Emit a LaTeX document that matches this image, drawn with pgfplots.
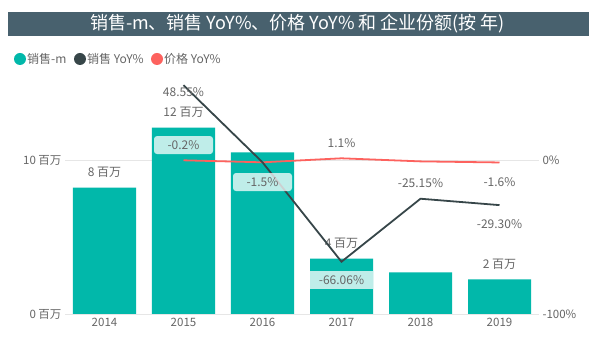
\documentclass[border=0pt]{standalone}
\usepackage{pgfplots}
\pgfplotsset{compat=1.18}
\usepackage{fontspec}
\setmainfont{Noto Sans CJK SC}
\definecolor{teal1}{HTML}{01B8AA}
\definecolor{dark1}{HTML}{374649}
\definecolor{red1}{HTML}{FD625E}
\definecolor{titlebg}{HTML}{48616E}
\definecolor{lbl}{HTML}{666666}
\definecolor{gridc}{HTML}{E6E6E6}
\begin{document}
\begin{tikzpicture}
\path[use as bounding box,fill=white] (0,0) rectangle (595bp,360bp);
% title bar
\fill[titlebg] (8bp,324bp) rectangle (589bp,348bp);
\node[text=white,font=\fontsize{18bp}{20bp}\selectfont] at (297.5bp,336bp) {销售-m、销售 YoY\%、价格 YoY\% 和 企业份额(按 年)};
% legend
\begin{scope}[font=\fontsize{12bp}{14bp}\selectfont,text=lbl]
\fill[teal1] (20bp,301bp) circle (6bp);
\node[anchor=west,inner sep=0pt] at (27bp,301bp) {销售-m};
\fill[dark1] (80bp,301bp) circle (6bp);
\node[anchor=west,inner sep=0pt] at (87bp,301bp) {销售 YoY\%};
\fill[red1] (157bp,301bp) circle (6bp);
\node[anchor=west,inner sep=0pt] at (164bp,301bp) {价格 YoY\%};
\end{scope}
\begin{axis}[
  at={(65bp,46bp)}, anchor=south west,
  scale only axis, width=474bp, height=231bp,
  xmin=-0.5, xmax=5.5, ymin=0, ymax=15,
  axis line style={draw=none},
  major tick style={draw=none},
  xtick={0,1,2,3,4,5},
  xticklabels={2014,2015,2016,2017,2018,2019},
  ytick={0,10},
  yticklabels={0 百万,10 百万},
  ymajorgrids, grid style={gridc, line width=0.6pt},
  tick label style={text=lbl,font=\fontsize{11.5bp}{13bp}\selectfont},
  xticklabel style={yshift=-1bp},
  yticklabel style={xshift=0bp},
  /pgf/number format/assume math mode=true,
  clip=false,
]
\addplot[ybar, bar width=63bp, fill=teal1, draw=none] coordinates {
(0,8.2) (1,12.1) (2,10.5) (3,3.6) (4,2.7) (5,2.25)};
\begin{scope}[font=\fontsize{12bp}{14bp}\selectfont,text=lbl]
\node at (axis cs:0,9.2) {8 百万};
\node at (axis cs:1,13.1) {12 百万};
\node at (axis cs:3,4.6) {4 百万};
\node at (axis cs:5,3.2) {2 百万};
\end{scope}
\end{axis}
\begin{axis}[
  at={(65bp,46bp)}, anchor=south west,
  scale only axis, width=474bp, height=231bp,
  xmin=-0.5, xmax=5.5, ymin=-100, ymax=50,
  axis line style={draw=none},
  major tick style={draw=none},
  xtick=\empty,
  axis y line*=right,
  ytick={-100,0},
  yticklabels={-100\%,0\%},
  tick label style={text=lbl,font=\fontsize{11.5bp}{13bp}\selectfont},
  yticklabel style={anchor=west,xshift=0bp},
  /pgf/number format/assume math mode=true,
  clip=false,
]
\addplot[red1, line width=1.8pt, no markers] coordinates {
(1,-0.2) (2,-1.5) (3,1.1) (4,-0.9) (5,-1.6)};
\addplot[dark1, line width=1.8pt, no markers] coordinates {
(1,48.55) (2,-1.5) (3,-66.06) (4,-25.15) (5,-29.30)};
\begin{scope}[font=\fontsize{12bp}{14bp}\selectfont,text=lbl]
\node at (axis cs:1,44) {48.55\%};
\node at (axis cs:3,11) {1.1\%};
\node at (axis cs:4,-15) {-25.15\%};
\node at (axis cs:5,-14.3) {-1.6\%};
\node at (axis cs:5,-41.5) {-29.30\%};
\node[fill=white,fill opacity=0.75,text opacity=1,rounded corners=3bp,minimum width=59bp,minimum height=18bp,inner sep=0pt] at (axis cs:1,9.7) {-0.2\%};
\node[fill=white,fill opacity=0.75,text opacity=1,rounded corners=3bp,minimum width=59bp,minimum height=18bp,inner sep=0pt] at (axis cs:2,-14.3) {-1.5\%};
\node[fill=white,fill opacity=0.75,text opacity=1,minimum width=63bp,minimum height=18bp,inner sep=0pt] at (axis cs:3,-78) {-66.06\%};
\end{scope}
\end{axis}
\end{tikzpicture}
\end{document}
